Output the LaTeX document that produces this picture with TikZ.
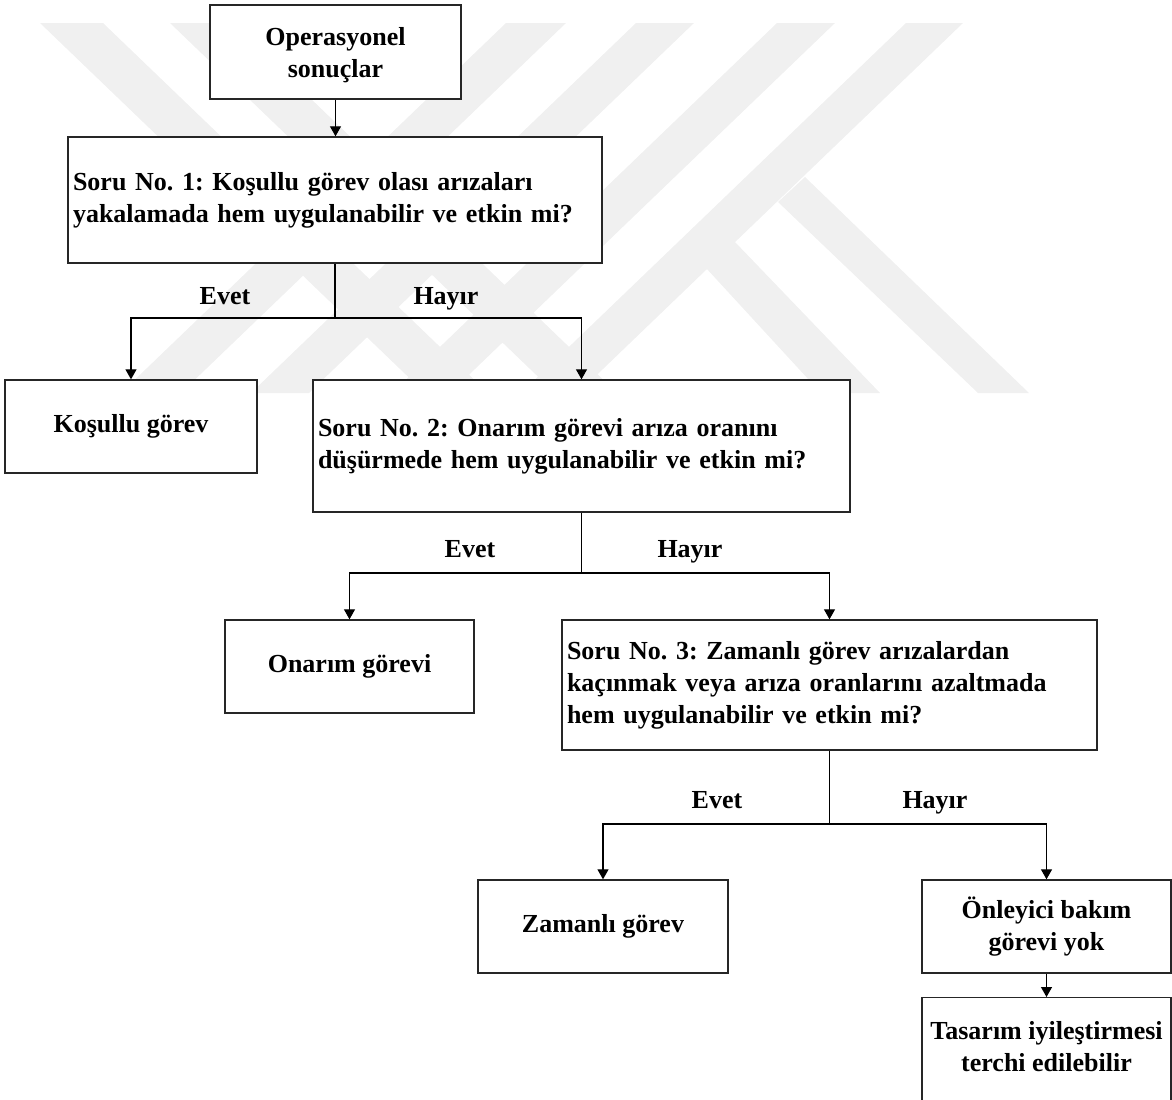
\documentclass[tikz,border=0pt]{standalone}
\usepackage{fontspec}
\setmainfont{Liberation Serif}
\usetikzlibrary{arrows.meta}
\frenchspacing
\newcommand\boxfont{\fontsize{13}{16}\selectfont\bfseries\frenchspacing}
\tikzset{
  wm/.style={fill=black!6},
  box/.style={draw=black!85, line width=0.7pt, fill=white, font=\boxfont, inner xsep=2.5pt, inner ysep=0pt},
  cbox/.style={box, align=center},
  qbox/.style={box, align=left},
  conn/.style={line width=0.6pt, draw=black},
  arr/.style={conn, -{Triangle[length=5pt,width=5.5pt]}},
  lbl/.style={font=\boxfont, anchor=base, inner sep=0pt}
}
\begin{document}
\begin{tikzpicture}[x=0.5pt,y=-0.5pt]
\useasboundingbox (0,0) rectangle (1172,1099);
\clip (0,0) rectangle (1172,1099);
% watermark
\fill[wm]
  (40,23) -- (103,23) -- (488,393) -- (425,393) -- cycle
  (170,23) -- (232,23) -- (617,393) -- (555,393) -- cycle
  (506,23) -- (566,23) -- (181,393) -- (121,393) -- cycle
  (636,23) -- (694,23) -- (309,393) -- (251,393) -- cycle
  (777,23) -- (835,23) -- (450,393) -- (392,393) -- cycle
  (906,23) -- (963,23) -- (578,393) -- (521,393) -- cycle
  (805,177) -- (1029,393) -- (978,393) -- (778,202) -- cycle
  (735,242) -- (880,393) -- (821,393) -- (706,268) -- cycle;
% boxes
\node[cbox, minimum width=125.5pt, minimum height=47pt, text depth=0pt] (b1) at (335.5,52) {Operasyonel\\sonuçlar};
\node[qbox, minimum width=267pt, minimum height=63pt, text width=262pt] (b2) at (335,200) {Soru No. 1: Koşullu görev olası arızaları\\yakalamada hem uygulanabilir ve etkin mi?};
\node[cbox, minimum width=126pt, minimum height=46.5pt] (b3) at (131,426.5) {Koşullu görev};
\node[qbox, minimum width=268.5pt, minimum height=66pt, text width=263.5pt] (b4) at (581.5,446) {Soru No. 2: Onarım görevi arıza oranını\\düşürmede hem uygulanabilir ve etkin mi?};
\node[cbox, minimum width=124.5pt, minimum height=46.5pt] (b5) at (349.5,666.5) {Onarım görevi};
\node[qbox, minimum width=267.5pt, minimum height=65pt, text width=262.5pt] (b6) at (829.5,685) {Soru No. 3: Zamanlı görev arızalardan\\kaçınmak veya arıza oranlarını azaltmada\\hem uygulanabilir ve etkin mi?};
\node[cbox, minimum width=125pt, minimum height=46.5pt] (b7) at (603,926.5) {Zamanlı görev};
\node[cbox, minimum width=124.5pt, minimum height=46.5pt] (b8) at (1046.5,926.5) {Önleyici bakım\\görevi yok};
\node[cbox, minimum width=124.5pt, minimum height=60pt, anchor=north] (b9) at (1046.5,997) {};
\node[font=\boxfont, align=center, inner sep=0pt] (b9t) at (1046.5,1047) {Tasarım iyileştirmesi\\terchi edilebilir};
% connectors
\draw[arr] (b1.south) -- (b1.south |- b2.north);
\coordinate (s1) at (335,318);
\draw[conn] (b2.south) -- (s1);
\draw[arr] (s1) -| (b3.north);
\draw[arr] (s1) -| (b4.north);
\coordinate (s2) at (581.5,573);
\draw[conn] (b4.south) -- (s2);
\draw[arr] (s2) -| (b5.north);
\draw[arr] (s2) -| (b6.north);
\coordinate (s3) at (829.5,824);
\draw[conn] (b6.south) -- (s3);
\draw[arr] (s3) -| (b7.north);
\draw[arr] (s3) -| (b8.north);
\draw[arr] (b8.south) -- (b9.north);
% labels
\node[lbl] (e1) at (225,304) {Evet};
\node[lbl] (h1) at (446,304) {Hayır};
\node[lbl] (e2) at (470,557) {Evet};
\node[lbl] (h2) at (690,557) {Hayır};
\node[lbl] (e3) at (717,808) {Evet};
\node[lbl] (h3) at (935,808) {Hayır};
\end{tikzpicture}
\end{document}
